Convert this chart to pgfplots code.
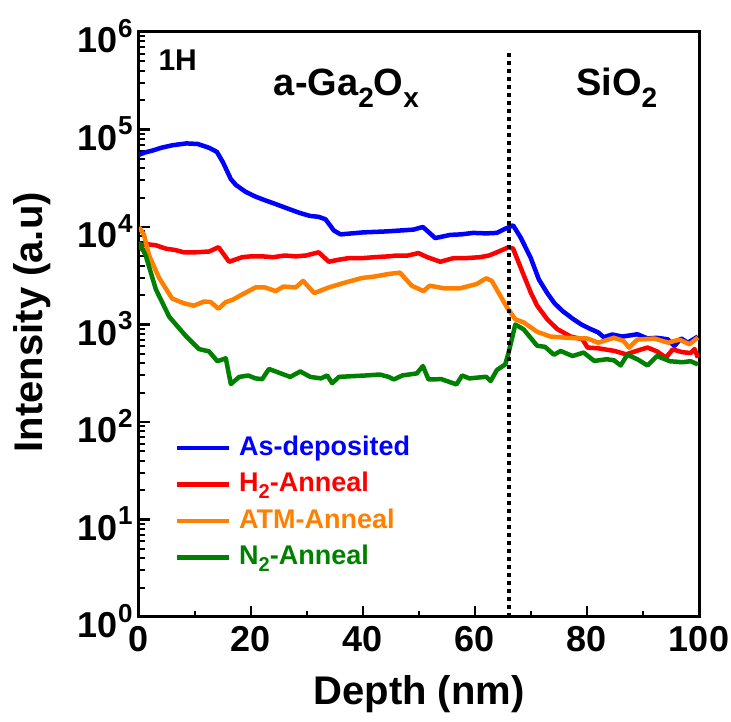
\documentclass[border=0pt]{standalone}
\usepackage{fontspec}
\setmainfont{Liberation Sans}
\usepackage{pgfplots}
\pgfplotsset{compat=1.18}
\definecolor{cblue}{RGB}{0,0,255}
\definecolor{cred}{RGB}{255,0,0}
\definecolor{corange}{RGB}{255,128,0}
\definecolor{cgreen}{RGB}{0,128,0}
\newcommand{\tsup}[1]{\raisebox{15.5pt}{\fontsize{26}{28}\selectfont #1}}
\newcommand{\bigsub}[1]{\raisebox{-12pt}{\fontsize{28}{30}\selectfont #1}}
\newcommand{\legsub}[1]{\raisebox{-7pt}{\fontsize{20}{22}\selectfont #1}}
\begin{document}
\begin{tikzpicture}
\useasboundingbox (-139pt,-105pt) rectangle (592pt,617pt);
\begin{axis}[
  at={(0,0)}, anchor=south west,
  scale only axis, width=560pt, height=585pt,
  xmin=0, xmax=100, ymode=log, ymin=1, ymax=1e6,
  xtick={0,20,...,100}, minor x tick num=1,
  ytick={1,10,100,1000,10000,100000,1000000},
  yticklabels={10\tsup{0},10\tsup{1},10\tsup{2},10\tsup{3},10\tsup{4},10\tsup{5},10\tsup{6}},
  tick align=inside, xtick pos=bottom, ytick pos=left,
  major tick length=11pt, minor tick length=6pt,
  major tick style={line width=2.5pt, black},
  minor tick style={line width=2pt, black},
  axis line style={line width=3pt},
  /pgf/number format/assume math mode=true,
  tick label style={font=\fontsize{36}{40}\selectfont\bfseries},
  xticklabel style={yshift=-6pt},
  yticklabel style={xshift=-3pt, yshift=-4pt},
  xlabel={Depth (nm)},
  ylabel={Intensity (a.u)},
  label style={font=\fontsize{40}{44}\selectfont\bfseries},
  xlabel style={at={(axis description cs:0.5,-0.1504)}, anchor=base},
  ylabel style={at={(axis description cs:-0.173,0.504)}, anchor=base},
  every axis plot/.append style={line width=4.5pt, line join=round, no marks},
  legend style={draw=none, fill=none, at={(rel axis cs:0.058,0.318)}, anchor=north west,
    font=\fontsize{27}{30}\selectfont\bfseries, row sep=6.5pt, column sep=6pt,
    nodes={inner sep=2pt, text height=20pt, text depth=6pt}},
  legend cell align=left,
  legend image code/.code={\draw[#1] (0pt,0pt) -- (52pt,0pt);},
]
\addplot[cblue] coordinates {
(0,5.5e4) (1,5.8e4) (2.5,6.1e4) (4,6.5e4) (6,6.9e4) (8.5,7.2e4) (10.5,7.1e4) (12.5,6.5e4) (13.9,5.9e4) (15,4.6e4) (16.4,3.1e4) (17.3,2.7e4) (19,2.3e4) (20.8,2.05e4) (22.5,1.88e4) (24.4,1.72e4) (26.5,1.55e4) (28.6,1.4e4) (30.5,1.3e4) (32.1,1.27e4) (33.3,1.2e4) (34.8,9.2e3) (36,8.4e3) (38,8.6e3) (40,8.8e3) (42,8.9e3) (44,9e3) (46.6,9.2e3) (49,9.4e3) (50.7,1e4) (52.9,7.7e3) (55.6,8.3e3) (57.5,8.4e3) (59.7,8.7e3) (62,8.6e3) (63.9,8.7e3) (65.4,9.6e3) (66.8,1.04e4) (68.1,7.9e3) (69.9,4.9e3) (71.4,2.9e3) (72.9,2.1e3) (74.2,1.65e3) (75.6,1.38e3) (77.6,1.13e3) (79,1e3) (80.6,900) (82,830) (83,740) (84.5,790) (86.3,752) (89,794) (90.8,720) (92.5,730) (94.4,705) (95.6,603) (96.8,720) (98,650) (99.8,752)
};
\addlegendentry{\textcolor{cblue}{As-deposited}}
\addplot[cred] coordinates {
(0,5.9e3) (1,6.7e3) (3,6.5e3) (4.8,6e3) (6.5,5.8e3) (8,5.5e3) (10,5.5e3) (12.5,5.6e3) (14.2,6.2e3) (16.1,4.4e3) (18.4,4.9e3) (20,5e3) (22,5e3) (24,4.9e3) (26,5.1e3) (28,5e3) (29.8,5.1e3) (32.1,5.5e3) (33.9,4.4e3) (35.5,4.6e3) (37.5,4.8e3) (40,4.8e3) (42,4.9e3) (44.6,5e3) (46,5.1e3) (48,5.1e3) (49.9,5.4e3) (51.5,4.9e3) (53.8,4.4e3) (56.2,4.8e3) (58.5,4.8e3) (60.9,4.9e3) (62.5,5.1e3) (63.9,5.5e3) (66,6.2e3) (66.8,6e3) (68.7,3.2e3) (70,2.1e3) (71.1,1.56e3) (72.9,1.13e3) (74.7,896) (77.1,752) (79.2,705) (80.1,580) (82,570) (84.9,536) (87,494) (89,540) (90.8,580) (92.5,530) (94.1,457) (95.3,556) (97,520) (98.5,510) (99.2,560) (99.8,457)
};
\addlegendentry{\textcolor{cred}{H\legsub{2}-Anneal}}
\addplot[corange] coordinates {
(0,1e4) (0.9,8.3e3) (1.8,5.1e3) (3.6,3e3) (5.9,1.85e3) (8,1.65e3) (9.8,1.56e3) (11.6,1.72e3) (12.8,1.7e3) (14.2,1.45e3) (15.5,1.7e3) (16.8,1.8e3) (18.2,2e3) (20.8,2.4e3) (22.5,2.4e3) (24.4,2.2e3) (25.8,2.45e3) (28,2.4e3) (29.3,2.8e3) (31.3,2.1e3) (33.9,2.4e3) (36.9,2.7e3) (39.8,3e3) (42,3.1e3) (44.6,3.3e3) (46.6,3.4e3) (48.7,2.5e3) (50.8,2.2e3) (51.9,2.5e3) (54.5,2.35e3) (57.3,2.35e3) (60.3,2.6e3) (62,2.98e3) (63,2.8e3) (64.5,1.98e3) (65.7,1.5e3) (67.2,1.13e3) (68.7,1.05e3) (71.1,841) (73.5,752) (76.5,730) (80.1,718) (82,651) (84.8,730) (86.5,680) (87.5,580) (89,700) (92,718) (94.5,651) (96.5,700) (98.3,627) (99.8,735)
};
\addlegendentry{\textcolor{corange}{ATM-Anneal}}
\addplot[cgreen] coordinates {
(0,7e3) (1.2,5.1e3) (3,2.3e3) (5.4,1.2e3) (8.3,770) (10.7,560) (12.5,530) (14,420) (15.5,450) (16.4,245) (17.9,290) (19.5,300) (20.8,280) (22,275) (23.2,350) (25,320) (27,290) (28.8,330) (30.6,290) (32.5,280) (33.6,300) (34.5,250) (35.7,290) (38,295) (40.5,300) (43,307) (44.6,290) (45.5,273) (47,300) (49.6,315) (50.7,375) (51.7,273) (54,275) (56.7,243) (57.7,300) (59,280) (62,291) (62.8,263) (63.9,341) (65.4,390) (66,515) (67.2,1e3) (68.7,890) (71.1,605) (72.5,590) (74.1,490) (75.3,535) (77.4,475) (79.4,515) (81.3,423) (83.5,440) (84.8,430) (86,380) (87.2,490) (89,440) (90.8,380) (92.5,475) (94.8,420) (97,410) (98.5,420) (99.8,390)
};
\addlegendentry{\textcolor{cgreen}{N\legsub{2}-Anneal}}
\addplot[forget plot, black, line width=4pt, dash pattern=on 4pt off 4pt] coordinates {(66,1) (66,6.5e5)};
\node[anchor=base west, font=\fontsize{30}{34}\selectfont\bfseries] at (rel axis cs:0.0286,0.935) {1H};
\node[anchor=base, font=\fontsize{38}{42}\selectfont\bfseries] at (rel axis cs:0.3705,0.892) {a-Ga\bigsub{2}O\bigsub{x}};
\node[anchor=base, font=\fontsize{38}{42}\selectfont\bfseries] at (rel axis cs:0.853,0.892) {SiO\bigsub{2}};
\end{axis}
\end{tikzpicture}
\end{document}
